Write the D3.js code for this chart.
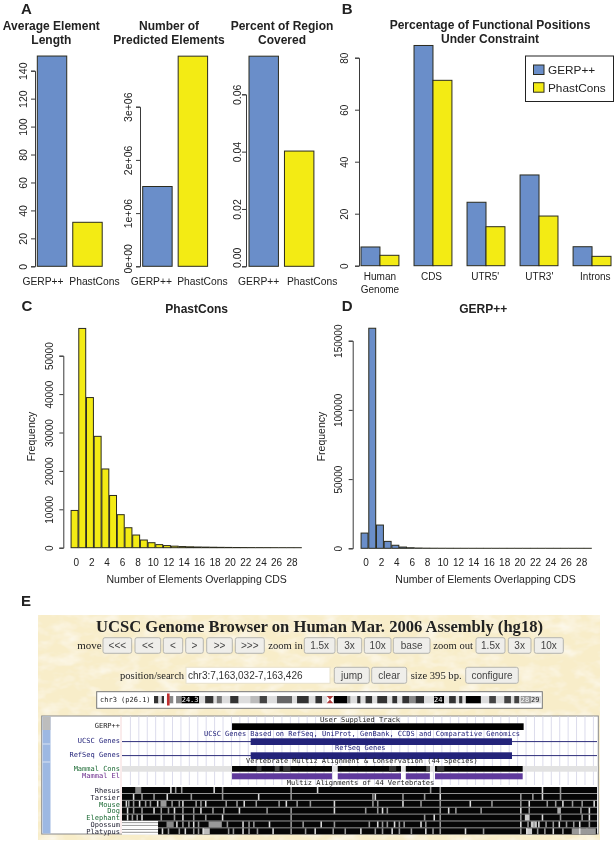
<!DOCTYPE html>
<html><head><meta charset="utf-8">
<script src="https://d3js.org/d3.v7.min.js"></script>
<style>
html,body{margin:0;padding:0;background:#fff}
svg{display:block;filter:blur(0.4px)}
text{font-family:"Liberation Sans",Arial,sans-serif;fill:#222}
.mono{font-family:"DejaVu Sans Mono",monospace}
.serif{font-family:"Liberation Serif",serif}
</style></head><body>
<svg id="c" width="616" height="842" viewBox="0 0 616 842">
<defs><filter id="parch" x="0" y="0" width="100%" height="100%">
<feTurbulence type="fractalNoise" baseFrequency="0.05 0.09" numOctaves="3" seed="4"/>
<feColorMatrix values="0 0 0 0 1  0 0 0 0 1  0 0 0 0 1  1.2 0 0 0 -0.5"/>
<feComposite in2="SourceGraphic" operator="in" result="n"/>
<feMerge><feMergeNode in="SourceGraphic"/><feMergeNode in="n"/></feMerge>
</filter></defs>
</svg>
<script>
// ---------- data ----------
const methods = ["GERP++", "PhastCons"];
const avgLength = [150.5, 31.5];
const predictedElements = [1.5e6, 3.95e6];
const percentCovered = [0.0733, 0.0402];
const regions = ["Human Genome", "CDS", "UTR5'", "UTR3'", "Introns"];
const gerpConstraint = [7.2, 84.7, 24.4, 34.9, 7.3];
const phastConstraint = [4, 71.3, 15, 19.1, 3.6];
const overlapBins = d3.range(0, 30);
const phastHist = [9700,57100,39100,29000,20500,13600,8600,5200,3300,2000,1300,800,550,400,300,230,180,150,120,90,70,50,40,30,25,20,15,10,8,5];
const gerpHist = [11000,159000,16800,5000,2200,900,400,200,100,60,40,30,20,15,10,8,6,5,4,3,3,2,2,2,1,1,1,1,1,1];
const overlapTicks = d3.range(0, 30, 2);

// genome browser content (positions are base offsets in the 395 bp window)
const moveButtons = ["<<<","<<",  "<", ">", ">>", ">>>"];
const zoomInButtons = ["1.5x","3x","10x","base"];
const zoomOutButtons = ["1.5x","3x","10x"];
const speciesNames = ["Rhesus","Tarsier","Mouse","Dog","Elephant","Opossum","Platypus"];
const speciesColors = ["#223","#223","#1d6b35","#1d6b35","#1d6b35","#223","#223"];
const speciesStart = [0,0,0,0,0,30,30];
const speciesGaps = [
 [40,44,49,76,83,140,162,256,264,349,364],
 [9,16,26,37,57,83,113,140,208,210,233,251,264,331,341,349,364],
 [3,5,9,14,19,23,29,41,47,50,61,65,69,86,95,101,111,130,136,145,156,176,208,212,233,248,264,289,307,331,338,353,360,366,374,382,392],
 [4,9,16,26,32,38,43,50,59,65,75,84,97,120,140,176,202,212,216,220,264,271,277,298,331,338,381,388],
 [4,8,12,16,32,43,50,59,69,83,140,251,259,264,331,349,364,382,388],
 [45,50,55,59,63,87,100,105,109,122,140,150,165,176,205,212,216,220,226,230,234,248,252,264,331,337,342,346,352,358,363,369,375,380,388],
 [33,38,47,52,59,63,67,88,92,100,105,112,125,140,152,160,175,185,198,210,216,224,230,240,252,258,264,285,300,331,336,345,351,358,366,374,380,386]
];
const speciesPatches = [
 [[11,16,"#888"]],
 [],
 [[32,37,"#999"]],
 [[362,365,"#aaa"]],
 [[335,339,"#ccc"]],
 [[37,43,"#888"],[72,83,"#999"],[340,345,"#ccc"]],
 [[67,73,"#bbb"],[336,341,"#ccc"],[375,394,"#999"]]
];
const consSegments = [[91.5,174.6],[179.4,232],[236,256],[260.3,333.2]];
const consShades = [[112,116,"#333"],[127,131,"#444"],[134,140,"#333"],[222,228,"#333"],[253,256,"#555"],[262,268,"#333"]];
const elementSegments = [[91.5,174.6],[179.4,232],[236,256],[260.3,333.2]];
const gerpElement = [91.5, 334];
const geneExon = [107, 324.3];
const bandLengths = [13,10,7,8,8,12,8,17,52,18,25,10,15,25,25,35,28,22,30,45,15,35,20,20,15,20,40,10,20,10,15,20,15,30,15,15,15,20,20,25,30,30,15,20,10,10,10,45,25,20,25,20,10,15,5,30,30];
const bandShades = ["#333","#ddd","#333","#fff","#ddd","#888","#fff","#888","#000","#ddd","#333","#ddd","#777","#ddd","#333","#ddd","#bbb","#444","#ddd","#666","#ddd","#333","#ddd","#333","#ddd","#fff","#000","#888","#ddd","#333","#ddd","#333","#ddd","#333","#ddd","#333","#ddd","#333","#888","#333","#ddd","#000","#ddd","#333","#ddd","#333","#ddd","#000","#ddd","#444","#ddd","#444","#ddd","#444","#ddd","#999","#ddd"];

// ---------- helpers ----------
const BLUE="#6a8ec9", YELLOW="#f3eb14", EDGE="#2b2b1e";
const svg=d3.select("#c");
function label(t,x,y,o={}){
  const s=svg.append("text").attr("x",x).attr("y",y).text(t)
    .attr("text-anchor",o.anchor||"middle")
    .style("font-size",(o.cls==="mono"?7:(o.size||10.5))+"px");
  if(o.bold) s.style("font-weight","bold");
  if(o.rot) s.attr("transform",`rotate(-90,${x},${y})`);
  if(o.cls) s.attr("class",o.cls);
  if(o.fill) s.style("fill",o.fill);
  return s;
}
function yAxis(x,scale,ticks,fmt,pad,size,zeroShift){
  const ax=d3.scaleLinear().domain(d3.extent(ticks)).range([scale(d3.min(ticks)),scale(d3.max(ticks))]);
  const g=svg.append("g").attr("transform",`translate(${x},0)`)
    .call(d3.axisLeft(ax).tickValues(ticks).tickFormat(fmt).tickSize(4).tickSizeOuter(4));
  g.selectAll("path,line").attr("stroke","#3a3a3a").attr("stroke-width",1);
  g.selectAll("text").attr("transform","rotate(-90)").attr("x",d=>d===0&&zeroShift?zeroShift:0).attr("y",-pad).attr("dy",0)
    .attr("text-anchor","middle").style("font-size",(size||10.5)+"px").style("font-family",'"Liberation Sans"').attr("fill","#222");
}
const sci=d=>d===0?"0e+00":(d/1e6)+"e+06";

// ---------- panel A ----------
function simplePanel(o){
  const y=d3.scaleLinear().domain([0,o.yMaxVal]).range([o.y0,o.y0-o.pxPerVal*o.yMaxVal]);
  const x=d3.scaleBand().domain(methods).range([o.xStart,o.xStart+64.9]).paddingInner(0.17).paddingOuter(0);
  svg.append("g").selectAll("rect").data(o.values).join("rect")
    .attr("x",(d,i)=>x(methods[i])).attr("width",x.bandwidth())
    .attr("y",d=>y(d)).attr("height",d=>y(0)-y(d))
    .attr("fill",(d,i)=>i?YELLOW:BLUE).attr("stroke",EDGE).attr("stroke-width",1);
  yAxis(o.axisX,y,o.ticks,o.fmt,o.pad,10.5,o.zeroShift);
  methods.forEach((m,i)=>label(m,x(m)+x.bandwidth()/2+o.labelDx[i],285,{size:10.3}));
  o.title.forEach((t,i)=>label(t,o.titleX,30+i*14.2,{bold:true,size:12}));
}
simplePanel({values:avgLength,yMaxVal:150.5,pxPerVal:195.6/140,y0:266.3,xStart:37.3,axisX:35,pad:7.7,
  ticks:d3.range(0,141,20),fmt:d=>d,labelDx:[-9,7],title:["Average Element","Length"],titleX:51.3});
simplePanel({values:predictedElements,yMaxVal:3.95e6,pxPerVal:159.6/3e6,y0:266.3,xStart:142.7,axisX:140,pad:8,zeroShift:8,
  ticks:[0,1e6,2e6,3e6],fmt:sci,labelDx:[-6,9.5],title:["Number of","Predicted Elements"],titleX:169});
simplePanel({values:percentCovered,yMaxVal:0.0733,pxPerVal:172/0.06,y0:266.3,xStart:249,axisX:246,pad:5.5,zeroShift:9,
  ticks:[0,0.02,0.04,0.06],fmt:d3.format(".2f"),labelDx:[-5,13],title:["Percent of Region","Covered"],titleX:282});

// ---------- panel B ----------
{
  const y=d3.scaleLinear().domain([0,80]).range([265.7,57.7]);
  const gx=d3.scaleBand().domain(regions).range([361,611]).paddingInner(0.285).paddingOuter(0);
  const inner=d3.scaleBand().domain([0,1]).range([0,gx.bandwidth()]);
  const labelDx=[0,-1.5,-0.8,0.3,3.3];
  regions.forEach((r,i)=>{
    [gerpConstraint[i],phastConstraint[i]].forEach((v,k)=>{
      svg.append("rect").attr("x",gx(r)+inner(k)).attr("width",inner.bandwidth())
        .attr("y",y(v)).attr("height",y(0)-y(v))
        .attr("fill",k?YELLOW:BLUE).attr("stroke",EDGE).attr("stroke-width",1);
    });
    const c=gx(r)+gx.bandwidth()/2;
    const parts=r==="Human Genome"?["Human","Genome"]:[r];
    parts.forEach((p,j)=>label(p,c+labelDx[i],280+j*13,{size:10}));
  });
  yAxis(359,y,[0,20,40,60,80],d=>d,11,10);
  ["Percentage of Functional Positions","Under Constraint"].forEach((t,i)=>label(t,490,29+i*14.3,{bold:true,size:12}));
  svg.append("rect").attr("x",525.5).attr("y",56).attr("width",88).attr("height",45.5).attr("fill","#fff").attr("stroke","#222").attr("stroke-width",1);
  methods.forEach((m,i)=>{
    svg.append("rect").attr("x",533.5).attr("y",65+i*17.7).attr("width",10.5).attr("height",9.5)
      .attr("fill",i?YELLOW:BLUE).attr("stroke",EDGE);
    label(m,548,74+i*17.8,{anchor:"start",size:11.8});
  });
}

// ---------- panels C, D ----------
function hist(o){
  const y=d3.scaleLinear().domain([0,o.tickMax]).range([o.y0,o.yTop]);
  const x=d3.scaleBand().domain(overlapBins).range([o.x0,o.x0+231]).paddingInner(0.1).paddingOuter(0.05);
  svg.append("g").selectAll("rect").data(o.values).join("rect")
    .attr("x",(d,i)=>x(i)).attr("width",x.bandwidth())
    .attr("y",d=>y(d)).attr("height",d=>y(0)-y(d))
    .attr("fill",o.fill).attr("stroke",EDGE).attr("stroke-width",1);
  yAxis(o.axisX,y,o.ticks,d=>d,o.pad,10);
  overlapTicks.forEach(t=>label(t,x(t)+x.bandwidth()/2+o.dx,565.7,{size:10}));
  label("Number of Elements Overlapping CDS",o.xLabelX,583,{size:10.5});
  label("Frequency",o.freqX,436.5,{rot:true,size:10.5});
  label(o.title,o.titleX,313,{bold:true,size:12});
  label(o.letter,o.letterX,311,{anchor:"start",bold:true,size:15});
}
hist({values:phastHist,fill:YELLOW,tickMax:50000,ticks:[0,10000,20000,30000,40000,50000],y0:547.7,yTop:355.7,x0:70.7,axisX:63.3,pad:10,dx:1.8,
  xLabelX:196.7,freqX:35,title:"PhastCons",titleX:196.7,letter:"C",letterX:21.5});
hist({values:gerpHist,fill:BLUE,tickMax:150000,ticks:[0,50000,100000,150000],y0:548.3,yTop:340.7,x0:360.7,axisX:352.7,pad:11,dx:1.5,
  xLabelX:485.5,freqX:325,title:"GERP++",titleX:483.3,letter:"D",letterX:341.7});

label("A",21,14,{anchor:"start",bold:true,size:15});
label("B",341.7,14,{anchor:"start",bold:true,size:15});
label("E",21,606,{anchor:"start",bold:true,size:15});

// ---------- panel E ----------
svg.append("rect").attr("x",38).attr("y",615).attr("width",562).attr("height",225).attr("fill","#f8edc9").attr("filter","url(#parch)");
label("UCSC Genome Browser on Human Mar. 2006 Assembly (hg18)",319.5,632,{bold:true,size:16.6,cls:"serif"}).attr("textLength",447);
function button(t,x0,x1,y0,y1){
  svg.append("rect").attr("x",x0).attr("y",y0).attr("width",x1-x0).attr("height",y1-y0).attr("rx",2)
    .attr("fill","#efeeea").attr("stroke","#b5b5b0");
  label(t,(x0+x1)/2,(y0+y1)/2+3.3,{size:10,fill:"#444"});
}
const R1=[637.7,653.3],R2=[667.3,683.3];
const moveX=[[103,131.7],[135,160.7],[163.3,182.7],[185.7,203.3],[206.7,232.3],[235.3,264.3]];
moveButtons.forEach((b,i)=>button(b,moveX[i][0],moveX[i][1],R1[0],R1[1]));
const zinX=[[304.3,335],[337.3,361.7],[364.3,391],[393.3,430]];
zoomInButtons.forEach((b,i)=>button(b,zinX[i][0],zinX[i][1],R1[0],R1[1]));
const zoutX=[[476,505],[508.3,531],[534.3,563.3]];
zoomOutButtons.forEach((b,i)=>button(b,zoutX[i][0],zoutX[i][1],R1[0],R1[1]));
label("move",77.3,648.5,{anchor:"start",size:11,cls:"serif"});
label("zoom in",268.3,648.5,{anchor:"start",size:10.6,cls:"serif"});
label("zoom out",433.3,648.5,{anchor:"start",size:10.6,cls:"serif"});
label("position/search",120,679,{anchor:"start",size:10.6,cls:"serif"});
svg.append("rect").attr("x",186).attr("y",667.3).attr("width",144).attr("height",16).attr("fill","#fff").attr("stroke","#e8e2cc");
label("chr3:7,163,032-7,163,426",188,679,{anchor:"start",size:10,fill:"#333"});
button("jump",334.3,369.3,R2[0],R2[1]);
button("clear",371.7,406.7,R2[0],R2[1]);
label("size 395 bp.",410.7,679,{anchor:"start",size:10.6,cls:"serif"});
button("configure",465.7,518.3,R2[0],R2[1]);

// ideogram
svg.append("rect").attr("x",96.7).attr("y",691.7).attr("width",445.6).attr("height",16.6).attr("fill","#fff").attr("stroke","#777");
label("chr3 (p26.1)",100,702,{anchor:"start",cls:"mono",fill:"#222"});
const ideo=d3.scaleLinear().domain([0,d3.sum(bandLengths)]).range([154,541]);
const bandStart=[0,...d3.cumsum(bandLengths)];
svg.append("g").selectAll("rect").data(bandLengths).join("rect")
  .attr("x",(d,i)=>ideo(bandStart[i])).attr("width",d=>ideo(d)-ideo(0)+0.2)
  .attr("y",696).attr("height",7.3).attr("fill",(d,i)=>bandShades[i]);
svg.append("rect").attr("x",167).attr("y",693.5).attr("width",2.6).attr("height",12).attr("fill","#c03030");
svg.append("path").attr("d","M326.7 696 L333.3 703.3 L326.7 703.3 L333.3 696 Z").attr("fill","#b03a3a");
label("24.3",181.7,702,{anchor:"start",cls:"mono",fill:"#fff"});
label("24",434,702,{anchor:"start",cls:"mono",fill:"#fff"});
label("28",520.7,702,{anchor:"start",cls:"mono",fill:"#fff"});
label("29",531,702,{anchor:"start",cls:"mono",fill:"#222"});

// track area
const bx=d3.scaleLinear().domain([0,395]).range([122,597]);
svg.append("rect").attr("x",41.7).attr("y",716).attr("width",556.6).attr("height",118).attr("fill","#fff").attr("stroke","#8a8a8a");
svg.append("rect").attr("x",42.5).attr("y",716.5).attr("width",8).attr("height",117).attr("fill","#9db8e2");
svg.append("rect").attr("x",42.5).attr("y",716.5).attr("width",8).attr("height",13.5).attr("fill","#bdbdbd");
[744,762].forEach(v=>svg.append("line").attr("x1",42.5).attr("x2",50.5).attr("y1",v).attr("y2",v).attr("stroke","#d8e2f2"));
svg.append("line").attr("x1",121).attr("x2",121).attr("y1",716.5).attr("y2",833.5).attr("stroke","#f5d8d8");
svg.append("g").selectAll("line").data(d3.range(7,395,7)).join("line")
  .attr("x1",d=>bx(d)).attr("x2",d=>bx(d)).attr("y1",716.5).attr("y2",785)
  .attr("stroke","#dcdcec").attr("stroke-width",1);

const trackBar=(a,b,y,h,f)=>svg.append("rect").attr("x",bx(a)).attr("width",bx(b)-bx(a)).attr("y",y).attr("height",h).attr("fill",f);
trackBar(gerpElement[0],gerpElement[1],723.3,6.7,"#000");
[[738.3,741.6],[752.3,755.6]].forEach(([y,l])=>{
  svg.append("line").attr("x1",bx(0)).attr("x2",bx(395)).attr("y1",l).attr("y2",l).attr("stroke","#2d2d7a");
  trackBar(geneExon[0],geneExon[1],y,6.7,"#23237a");
});
trackBar(0,395,766,5.7,"#e2e2e2");
consSegments.forEach(s=>trackBar(s[0],s[1],766,5.7,"#050505"));
consShades.forEach(s=>trackBar(s[0],s[1],766,5.7,s[2]));
elementSegments.forEach(s=>trackBar(s[0],s[1],773.3,6,"#5f3a9c"));

label("User Supplied Track",320,721.7,{anchor:"start",cls:"mono"});
label("UCSC Genes Based on RefSeq, UniProt, GenBank, CCDS and Comparative Genomics",204,736,{anchor:"start",cls:"mono",fill:"#23237a"});
label("RefSeq Genes",335,750,{anchor:"start",cls:"mono",fill:"#23237a"});
label("Vertebrate Multiz Alignment & Conservation (44 Species)",246,763.3,{anchor:"start",cls:"mono"});
label("Multiz Alignments of 44 Vertebrates",286.7,785,{anchor:"start",cls:"mono"});
[["GERP++",728,"#222"],["UCSC Genes",742.7,"#23237a"],["RefSeq Genes",756.7,"#23237a"],["Mammal Cons",770.7,"#1d6b35"],["Mammal El",777.7,"#6a2a8c"]]
  .forEach(d=>label(d[0],120,d[1],{anchor:"end",cls:"mono",fill:d[2]}));

// alignments
const rowY=d3.scaleBand().domain(speciesNames).range([787,834.3]).paddingInner(0.13);
svg.append("rect").attr("x",bx(0)).attr("width",bx(395)-bx(0)).attr("y",787).attr("height",47).attr("fill","#a8a8a8");
speciesNames.forEach((n,i)=>{
  const y=rowY(n),h=rowY.bandwidth();
  label(n,120,y+h-0.2,{anchor:"end",cls:"mono",fill:speciesColors[i]});
  if(speciesStart[i]>0){
    trackBar(0,speciesStart[i],y-0.5,h+1,"#fff");
    [y+1.2,y+4].forEach(l=>svg.append("line").attr("x1",bx(0)).attr("x2",bx(speciesStart[i])).attr("y1",l).attr("y2",l).attr("stroke","#999"));
  }
  trackBar(speciesStart[i],395,y,h,"#060606");
  speciesPatches[i].forEach(p=>trackBar(p[0],p[1],y,h,p[2]));
  svg.append("g").selectAll("rect").data(speciesGaps[i]).join("rect")
    .attr("x",d=>bx(d)).attr("width",(bx(1)-bx(0))*1.3).attr("y",y).attr("height",h)
    .attr("fill",(d,k)=>k%3===0?"#ddd":"#999");
});
</script>
</body></html>
